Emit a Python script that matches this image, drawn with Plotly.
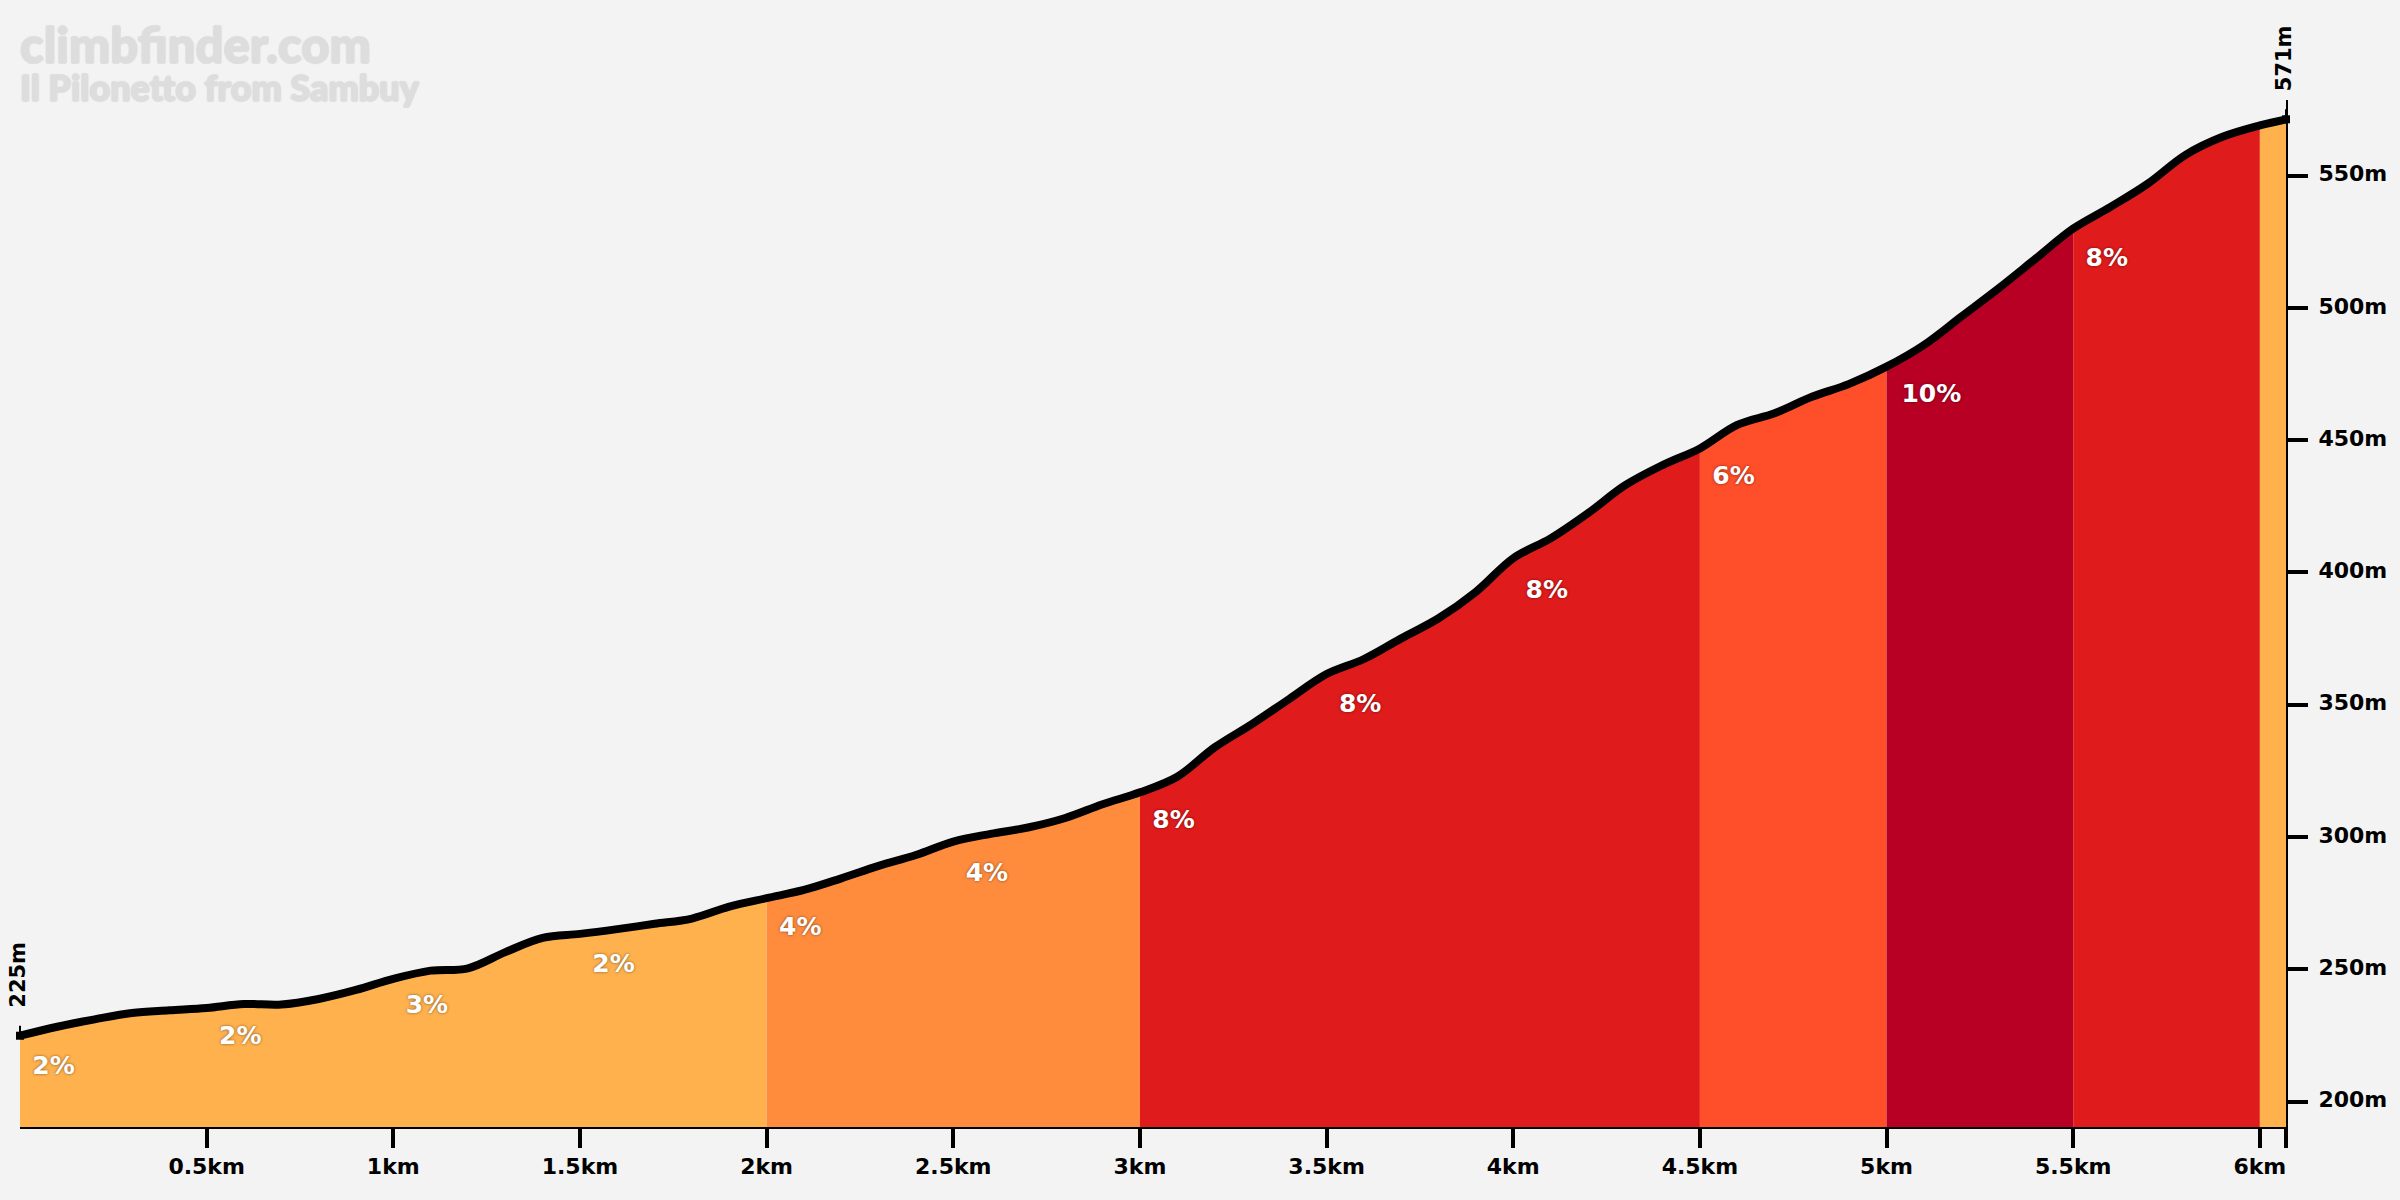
import plotly.graph_objects as go

distance = [0, 0.1, 0.2, 0.3, 0.4, 0.5, 0.6, 0.7, 0.8, 0.9,
            1.0, 1.1, 1.2, 1.3, 1.4, 1.5, 1.6, 1.7, 1.8, 1.9,
            2.0, 2.1, 2.2, 2.3, 2.4, 2.5, 2.6, 2.7, 2.8, 2.9,
            3.0, 3.1, 3.2, 3.3, 3.4, 3.5, 3.6, 3.7, 3.8, 3.9,
            4.0, 4.1, 4.2, 4.3, 4.4, 4.5, 4.6, 4.7, 4.8, 4.9,
            5.0, 5.1, 5.2, 5.3, 5.4, 5.5, 5.6, 5.7, 5.8, 5.9,
            6.0, 6.07]
elevation = [224.9, 228.3, 231.1, 233.5, 234.5, 235.4, 236.9, 236.7, 238.8, 242.2,
             246.4, 249.5, 250.4, 256.5, 261.9, 263.4, 265.2, 267.2, 269.2, 273.7,
             276.9, 280.0, 284.4, 289.1, 293.2, 298.3, 301.2, 303.6, 307.2, 312.4,
             316.9, 322.8, 333.9, 342.7, 352.2, 361.6, 367.3, 375.1, 382.7, 392.7,
             405.4, 412.9, 422.4, 433.0, 440.6, 446.9, 455.8, 460.2, 466.4, 471.3,
             477.8, 486.0, 496.7, 507.4, 518.7, 530.0, 538.2, 547.0, 557.8, 564.7,
             569.0, 571.3]

band_starts = [0, 2, 3, 4.5, 5, 5.5, 6]
band_ends = [2, 3, 4.5, 5, 5.5, 6, 6.07]
band_colors = ['#FFB14E', '#FF8C3D', '#E01B1C', '#FF4E2A', '#B80024', '#E01B1C', '#FFB14E']

grade_x = [0.09, 0.59, 1.09, 1.59, 2.09, 2.59, 3.09, 3.59, 4.09, 4.59, 5.12, 5.59]
grade_y = [212.7, 224.3, 235.9, 251.5, 265.4, 285.6, 305.9, 349.8, 392.6, 436.0, 466.7, 518.2]
grade_labels = ['2%', '2%', '3%', '2%', '4%', '4%', '8%', '8%', '8%', '6%', '10%', '8%']

x_ticks = [0.5, 1, 1.5, 2, 2.5, 3, 3.5, 4, 4.5, 5, 5.5, 6, 6.07]
x_labels = ['0.5km', '1km', '1.5km', '2km', '2.5km', '3km', '3.5km', '4km', '4.5km', '5km', '5.5km', '6km', '']
y_ticks = [200, 250, 300, 350, 400, 450, 500, 550]
y_labels = ['200m', '250m', '300m', '350m', '400m', '450m', '500m', '550m']

FONT = 'DejaVu Sans'
LOGO_FONT = 'Lato'
LOGO_FATTEN = '1px 0 1px #DDDDDD, -1px 0 1px #DDDDDD, 0 1px 1px #DDDDDD, 0 -1px 1px #DDDDDD'

fig = go.Figure()

# one filled piece per gradient band
for start, end, color in zip(band_starts, band_ends, band_colors):
    xs = [d for d in distance if start <= d <= end]
    ys = [e for d, e in zip(distance, elevation) if start <= d <= end]
    fig.add_trace(go.Scatter(x=xs, y=ys, mode='lines', fill='tozeroy', fillcolor=color,
                             line=dict(color=color, width=0, shape='spline', smoothing=1)))

fig.add_trace(go.Scatter(x=distance, y=elevation, mode='lines', cliponaxis=False,
                         line=dict(color='black', width=8, shape='spline', smoothing=1)))
fig.add_trace(go.Scatter(x=[distance[0], distance[-1]], y=[elevation[0], elevation[-1]], mode='markers',
                         cliponaxis=False, marker=dict(symbol='square', color='black', size=8)))

fig.add_trace(go.Scatter(x=grade_x, y=grade_y, mode='text', text=grade_labels,
                         textfont=dict(family=FONT, size=25, color='white', weight=700,
                                       shadow='0 0 3px rgba(0,0,0,0.5)')))

# start and finish heights
for x, y, label, xshift in [(distance[0], elevation[0], '225m', -2), (distance[-1], elevation[-1], '571m', -2)]:
    fig.add_annotation(x=x, y=y, text=' ', showarrow=True, ax=0, ay=-20, arrowhead=0, arrowwidth=2,
                       arrowcolor='black', standoff=0)
    fig.add_annotation(x=x, y=y, text=label, showarrow=False, textangle=-90, yanchor='bottom',
                       yshift=26, xshift=xshift, font=dict(family=FONT, size=21, color='black', weight=700))

fig.add_annotation(xref='paper', yref='paper', x=-0.001, y=1.0545, xanchor='left', yanchor='middle', showarrow=False,
                   text='climbfinder.com', font=dict(family=LOGO_FONT, size=49, color='#DDDDDD', weight=900,
                                                     shadow=LOGO_FATTEN))
fig.add_annotation(xref='paper', yref='paper', x=-0.001, y=1.0127, xanchor='left', yanchor='middle', showarrow=False,
                   text='Il Pilonetto from Sambuy', font=dict(family=LOGO_FONT, size=36, color='#DDDDDD', weight=900,
                                                              shadow=LOGO_FATTEN))

fig.update_layout(
    width=2400, height=1200,
    margin=dict(l=20, r=114, t=100, b=73),
    paper_bgcolor='#F3F3F3', plot_bgcolor='#F3F3F3',
    showlegend=False,
    xaxis=dict(range=[0, 6.07], tickvals=x_ticks, ticktext=x_labels, ticks='outside', ticklen=19,
               tickwidth=3.5, tickcolor='black', showline=True, linecolor='black', linewidth=2,
               showgrid=False, zeroline=False, ticklabelstandoff=0,
               tickfont=dict(family=FONT, size=22, color='black', weight=700)),
    yaxis=dict(range=[190.4, 578.6], side='right', tickvals=y_ticks, ticktext=y_labels, ticks='outside',
               ticklen=20, tickwidth=3.5, tickcolor='black', showline=True, linecolor='black', linewidth=2,
               showgrid=False, zeroline=False, ticklabelstandoff=6, ticklabelshift=-2,
               tickfont=dict(family=FONT, size=22, color='black', weight=700)),
)

# the page margin would push the chart off the window corner
fig.write_html("out.html", post_script="document.body.style.margin='0';", config=dict(displayModeBar=False))
